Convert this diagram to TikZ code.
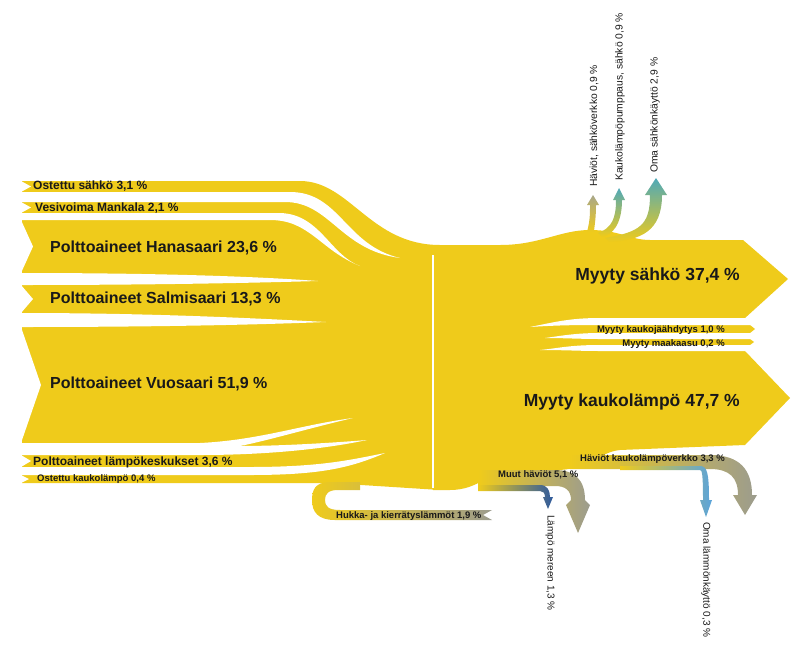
\documentclass[tikz,border=0pt]{standalone}
\usepackage{fontspec}
\setmainfont{Liberation Sans}
\definecolor{Y}{HTML}{EFCB1B}
\definecolor{G}{HTML}{9C9C8E}
\definecolor{Bl}{HTML}{5BA4DB}
\definecolor{DB}{HTML}{2F5A9E}
\definecolor{T}{HTML}{4FA9B8}
\definecolor{K}{HTML}{A8A78A}
\newcommand\fsz[1]{\fontsize{#1}{#1}\selectfont}
\tikzset{lbl/.style={inner sep=0pt,text=black!90,font=\fsz{#1}\bfseries},
 rl/.style={inner sep=0pt,text=black!90,font=\fsz{10.3},rotate=90},
 rlr/.style={inner sep=0pt,text=black!90,font=\fsz{10},rotate=-90},
 wh/.style={fill=white}}
\begin{document}
\begin{tikzpicture}[x=1pt,y=-1pt]
\useasboundingbox (0,0) rectangle (797,651);
% left mass
\fill[Y] (22,181) -- (300,181) .. controls (350,181) and (370,245) .. (440,245) -- (440,490) -- (330,483) -- (22,483) -- cycle;
% gaps
\fill[wh] (20,192) -- (290,192) .. controls (340,192) and (345,245) .. (400,258) .. controls (340,250) and (330,202) .. (285,202) -- (20,202) -- cycle;
\fill[wh] (20,213) -- (280,213) .. controls (320,214) and (330,255) .. (360,266) .. controls (320,250) and (310,220) .. (270,220) -- (20,220) -- cycle;
\fill[wh] (20,273) .. controls (150,273) and (250,276) .. (318,281) .. controls (250,283) and (150,285) .. (20,285) -- cycle;
\fill[wh] (20,313) .. controls (150,313) and (250,318) .. (326,322) .. controls (250,325) and (150,327) .. (20,327) -- cycle;
\fill[wh] (20,443) -- (200,443) .. controls (260,440) and (300,425) .. (353,418) .. controls (310,428) and (270,440) .. (240,446) .. controls (280,446) and (330,443) .. (367,440) .. controls (320,450) and (260,455) .. (200,455) -- (20,455) -- cycle;
\fill[wh] (20,467) -- (250,467) .. controls (320,467) and (350,460) .. (385,453) .. controls (350,468) and (320,475) .. (250,475) -- (20,475) -- cycle;
% notches
\foreach \t/\b/\d in {181/192/10,202/213/10,220/273/12,285/313/12,327/443/20,455/467/10,475/483/8}
  \fill[wh] (21,\t) -- ({21+\d},{(\t+\b)/2}) -- (21,\b) -- cycle;
% right mass
\fill[Y] (433,245) -- (500,245) .. controls (540,245) and (560,230) .. (590,230) .. controls (620,230) and (630,240) .. (650,240) -- (743,240) -- (788,279) -- (745,318) -- (750,325) -- (755,329) -- (750,333) -- (750,339) -- (754,342) -- (750,345) -- (745,351) -- (790,398) -- (745,445) -- (620,450) .. controls (600,452) and (590,468) .. (560,470) -- (510,470) .. controls (490,470) and (480,490) .. (450,490) -- (433,490) -- cycle;
\fill[wh] (800,318) -- (600,318) .. controls (570,318) and (555,322) .. (530,327) .. controls (560,325) and (580,325) .. (600,325) -- (800,325) -- cycle;
\fill[wh] (800,333) -- (600,333) .. controls (575,333) and (560,336) .. (545,338) .. controls (565,338) and (580,339) .. (600,339) -- (800,339) -- cycle;
\fill[wh] (800,345) -- (600,345) .. controls (570,345) and (560,348) .. (540,350) .. controls (565,350) and (580,351) .. (600,351) -- (800,351) -- cycle;
\draw[white,line width=1.5] (433,255) -- (433,488);
% top arrows
\shade[bottom color=Y,top color=K] (587,232) .. controls (590,220) and (590,215) .. (590,205) -- (587,205) -- (593,195) -- (599,205) -- (596,205) .. controls (596,220) and (594,228) .. (594,232) -- cycle;
\shade[bottom color=Y,top color=T] (598,233) .. controls (612,228) and (616,218) .. (616,200) -- (613,200) -- (619,188) -- (625,200) -- (622,200) .. controls (622,225) and (612,235) .. (602,237) -- cycle;
\shade[bottom color=Y,top color=T] (605,238) .. controls (640,232) and (650,225) .. (650,195) -- (645,195) -- (656,178) -- (667,195) -- (662,195) .. controls (662,232) and (640,240) .. (610,242) -- cycle;
% bottom losses
\shade[left color=Y,right color=G] (570,455) -- (710,455) .. controls (740,455) and (752,470) .. (752,495) -- (757,495) -- (745,515) -- (733,495) -- (738,495) .. controls (738,478) and (730,469) .. (710,469) -- (570,469) -- cycle;
\shade[left color=Y,right color=Bl] (620,466) -- (700,466) .. controls (707,466) and (709,472) .. (709,500) -- (712,500) -- (706,517) -- (700,500) -- (703,500) .. controls (703,474) and (702,470) .. (700,470) -- (620,470) -- cycle;
\shade[left color=Y,right color=G] (478,470) -- (555,470) .. controls (575,470) and (585,480) .. (585,500) -- (590,505) -- (578,533) -- (566,505) -- (571,500) .. controls (571,490) and (565,486) .. (555,486) -- (478,486) -- cycle;
\shade[left color=Y,right color=DB] (478,485) -- (540,485) .. controls (547,485) and (550,490) .. (550,497) -- (553,497) -- (548,509) -- (543,497) -- (545,497) .. controls (545,493) and (543,491) .. (540,491) -- (478,491) -- cycle;
\shade[left color=Y,right color=G] (360,482) -- (330,482) .. controls (315,482) and (312,490) .. (312,500) .. controls (312,512) and (318,520) .. (335,520) -- (492,520) -- (483,515) -- (492,510) -- (340,510) .. controls (328,510) and (325,506) .. (325,500) .. controls (325,494) and (328,490) .. (338,490) -- (360,490) -- cycle;
% labels
\node[lbl=12,anchor=west] (l1) at (33,186) {Ostettu sähkö 3,1 \%};
\node[lbl=12,anchor=west] (l2) at (35,208) {Vesivoima Mankala 2,1 \%};
\node[lbl=16,anchor=west] (l3) at (50,248) {Polttoaineet Hanasaari 23,6 \%};
\node[lbl=16,anchor=west] (l4) at (50,299) {Polttoaineet Salmisaari 13,3 \%};
\node[lbl=16,anchor=west] (l5) at (50,384) {Polttoaineet Vuosaari 51,9 \%};
\node[lbl=12,anchor=west] (l6) at (33,462) {Polttoaineet lämpökeskukset 3,6 \%};
\node[lbl=9.5,anchor=west] (l7) at (37,479) {Ostettu kaukolämpö 0,4 \%};
\node[lbl=17.5,anchor=east] (r1) at (740,276) {Myyty sähkö 37,4 \%};
\node[lbl=9.5,anchor=east] (r2) at (725,330) {Myyty kaukojäähdytys 1,0 \%};
\node[lbl=9.5,anchor=east] (r3) at (725,344) {Myyty maakaasu 0,2 \%};
\node[lbl=17.5,anchor=east] (r4) at (740,402) {Myyty kaukolämpö 47,7 \%};
\node[lbl=9.5,anchor=west] (b1) at (580,459) {Häviöt kaukolämpöverkko 3,3 \%};
\node[lbl=9.5,anchor=west] (b2) at (498,475) {Muut häviöt 5,1 \%};
\node[lbl=9.5,anchor=west] (b3) at (336,516) {Hukka- ja kierrätyslämmöt 1,9 \%};
\node[rl,anchor=west] (t1) at (594,187) {Häviöt, sähköverkko 0,9 \%};
\node[rl,anchor=west] (t2) at (620,181) {Kaukolämpöpumppaus, sähkö 0,9 \%};
\node[rl,anchor=west] (t3) at (655,173) {Oma sähkönkäyttö 2,9 \%};
\node[rlr,anchor=west] (d1) at (550,515) {Lämpö mereen 1,3 \%};
\node[rlr,anchor=west] (d2) at (706,522) {Oma lämmönkäyttö 0,3 \%};
\end{tikzpicture}
\end{document}
